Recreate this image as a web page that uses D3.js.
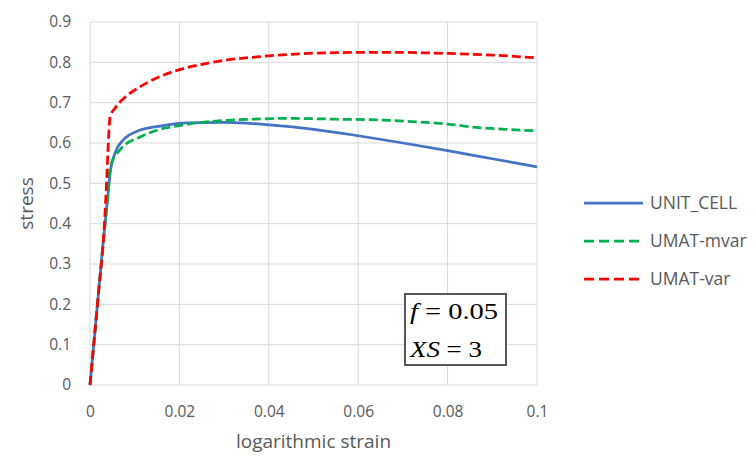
<!DOCTYPE html>
<html>
<head>
<meta charset="utf-8">
<script src="https://cdn.jsdelivr.net/npm/d3@7"></script>
<style>
  body { margin: 0; background: #fff; }
  svg { font-family: "Open Sans", "Liberation Sans", sans-serif; }
</style>
</head>
<body>
<svg width="755" height="456"></svg>
<script>
// data: [strain, stress]
const unitCell = [
  [0, 0], [0.001, 0.12], [0.002, 0.24], [0.003, 0.36], [0.004, 0.47], [0.0045, 0.525],
  [0.0056, 0.575], [0.0074, 0.607], [0.0112, 0.632], [0.0157, 0.642], [0.0217, 0.65],
  [0.03, 0.651], [0.035, 0.649], [0.04, 0.645], [0.05, 0.634], [0.06, 0.618],
  [0.07, 0.6], [0.08, 0.581], [0.09, 0.561], [0.1, 0.541]
]
const umatMvar = [
  [0, 0], [0.001, 0.12], [0.002, 0.24], [0.003, 0.36], [0.004, 0.47], [0.0045, 0.54],
  [0.0067, 0.583], [0.0112, 0.615], [0.0157, 0.634], [0.02, 0.643], [0.024, 0.65],
  [0.0306, 0.656], [0.0387, 0.66], [0.045, 0.661], [0.055, 0.659], [0.065, 0.657],
  [0.072, 0.653], [0.08, 0.647], [0.087, 0.638], [0.093, 0.634], [0.1, 0.63]
]
const umatVar = [
  [0, 0], [0.001, 0.12], [0.002, 0.24], [0.003, 0.36], [0.0037, 0.5], [0.0041, 0.6],
  [0.0045, 0.665], [0.0055, 0.685], [0.0075, 0.71], [0.011, 0.738], [0.0155, 0.764],
  [0.02, 0.782], [0.025, 0.795], [0.03, 0.805], [0.038, 0.814], [0.045, 0.82],
  [0.055, 0.824], [0.065, 0.825], [0.08, 0.822], [0.09, 0.818], [0.1, 0.811]
]
const seriesNames = ["UNIT_CELL", "UMAT-mvar", "UMAT-var"]
const xTicks = [0, 0.02, 0.04, 0.06, 0.08, 0.1]
const yTicks = [0, 0.1, 0.2, 0.3, 0.4, 0.5, 0.6, 0.7, 0.8, 0.9]
const annotation = [["f", " = 0.05"], ["XS", " = 3"]]

const svg = d3.select("svg")
const margin = {left: 90, right: 218, top: 22, bottom: 71}
const width = 755 - margin.left - margin.right,
    height = 456 - margin.top - margin.bottom

const x = d3.scaleLinear().domain([0, 0.1]).range([margin.left, margin.left + width])
const y = d3.scaleLinear().domain([0, 0.9]).range([margin.top + height, margin.top])

const grey = "#595959"

// gridlines
svg.append("g")
    .selectAll("line")
    .data(yTicks)
    .join("line")
    .attr("x1", x(0)).attr("x2", x(0.1))
    .attr("y1", d => y(d)).attr("y2", d => y(d))
    .attr("stroke", "#d9d9d9").attr("stroke-width", 1)
svg.append("g")
    .selectAll("line")
    .data(xTicks)
    .join("line")
    .attr("x1", d => x(d)).attr("x2", d => x(d))
    .attr("y1", y(0)).attr("y2", y(0.9))
    .attr("stroke", "#d9d9d9").attr("stroke-width", 1)

// axes (tick labels only)
svg.append("g")
    .attr("transform", `translate(0, ${y(0)})`)
    .call(d3.axisBottom(x).tickValues(xTicks).tickSize(0).tickPadding(21).tickFormat(d => +d.toFixed(2)))
svg.append("g")
    .attr("transform", `translate(${x(0) - 19}, 0)`)
    .call(d3.axisLeft(y).tickValues(yTicks).tickSize(0).tickPadding(0).tickFormat(d => +d.toFixed(1)))
svg.selectAll(".domain").remove()
svg.selectAll(".tick text")
    .style("font-size", "15.5px")
    .attr("fill", grey)
    .style("font-family", "Open Sans, sans-serif")

// axis titles
svg.append("text")
    .attr("x", (x(0) + x(0.1)) / 2)
    .attr("y", 448)
    .attr("text-anchor", "middle")
    .attr("fill", grey)
    .style("font-size", "19px")
    .text("logarithmic strain")
svg.append("text")
    .attr("transform", `translate(33, ${(y(0) + y(0.9)) / 2}) rotate(-90)`)
    .attr("text-anchor", "middle")
    .attr("fill", grey)
    .style("font-size", "19px")
    .text("stress")

const line = d3.line().x(d => x(d[0])).y(d => y(d[1])).curve(d3.curveMonotoneX)

const styles = [
  {data: unitCell, color: "#4472C4", dash: null},
  {data: umatMvar, color: "#00B050", dash: "9,4"},
  {data: umatVar, color: "#FF0000", dash: "9,4"}
]

svg.append("g")
    .selectAll("path")
    .data(styles)
    .join("path")
    .attr("d", d => line(d.data))
    .attr("fill", "none")
    .attr("stroke", d => d.color)
    .attr("stroke-width", 2.75)
    .attr("stroke-dasharray", d => d.dash)

// legend
const legend = svg.append("g")
    .selectAll("g")
    .data(styles)
    .join("g")
    .attr("transform", (d, i) => `translate(584, ${203 + i * 38})`)
legend.append("line")
    .attr("x1", 0).attr("x2", 59)
    .attr("stroke", d => d.color)
    .attr("stroke-width", 2.75)
    .attr("stroke-dasharray", d => d.dash ? "10,5" : null)
legend.append("text")
    .attr("x", 66)
    .attr("dy", "0.35em")
    .attr("fill", grey)
    .style("font-size", "17.5px")
    .text((d, i) => seriesNames[i])

// annotation box
const box = svg.append("g")
box.append("rect")
    .attr("x", 405).attr("y", 294)
    .attr("width", 101).attr("height", 71)
    .attr("fill", "#fff")
    .attr("stroke", grey)
    .attr("stroke-width", 2)
box.selectAll("text")
    .data(annotation)
    .join("text")
    .attr("x", 410)
    .attr("y", (d, i) => 319 + i * 38)
    .attr("textLength", (d, i) => i === 0 ? 88 : 72)
    .attr("lengthAdjust", "spacingAndGlyphs")
    .style("font-family", "Liberation Serif, Times New Roman, serif")
    .style("font-size", "23px")
    .attr("fill", "#000")
    .each(function (d) {
      d3.select(this).append("tspan").style("font-style", "italic").text(d[0])
      d3.select(this).append("tspan").text(d[1])
    })
</script>
</body>
</html>
